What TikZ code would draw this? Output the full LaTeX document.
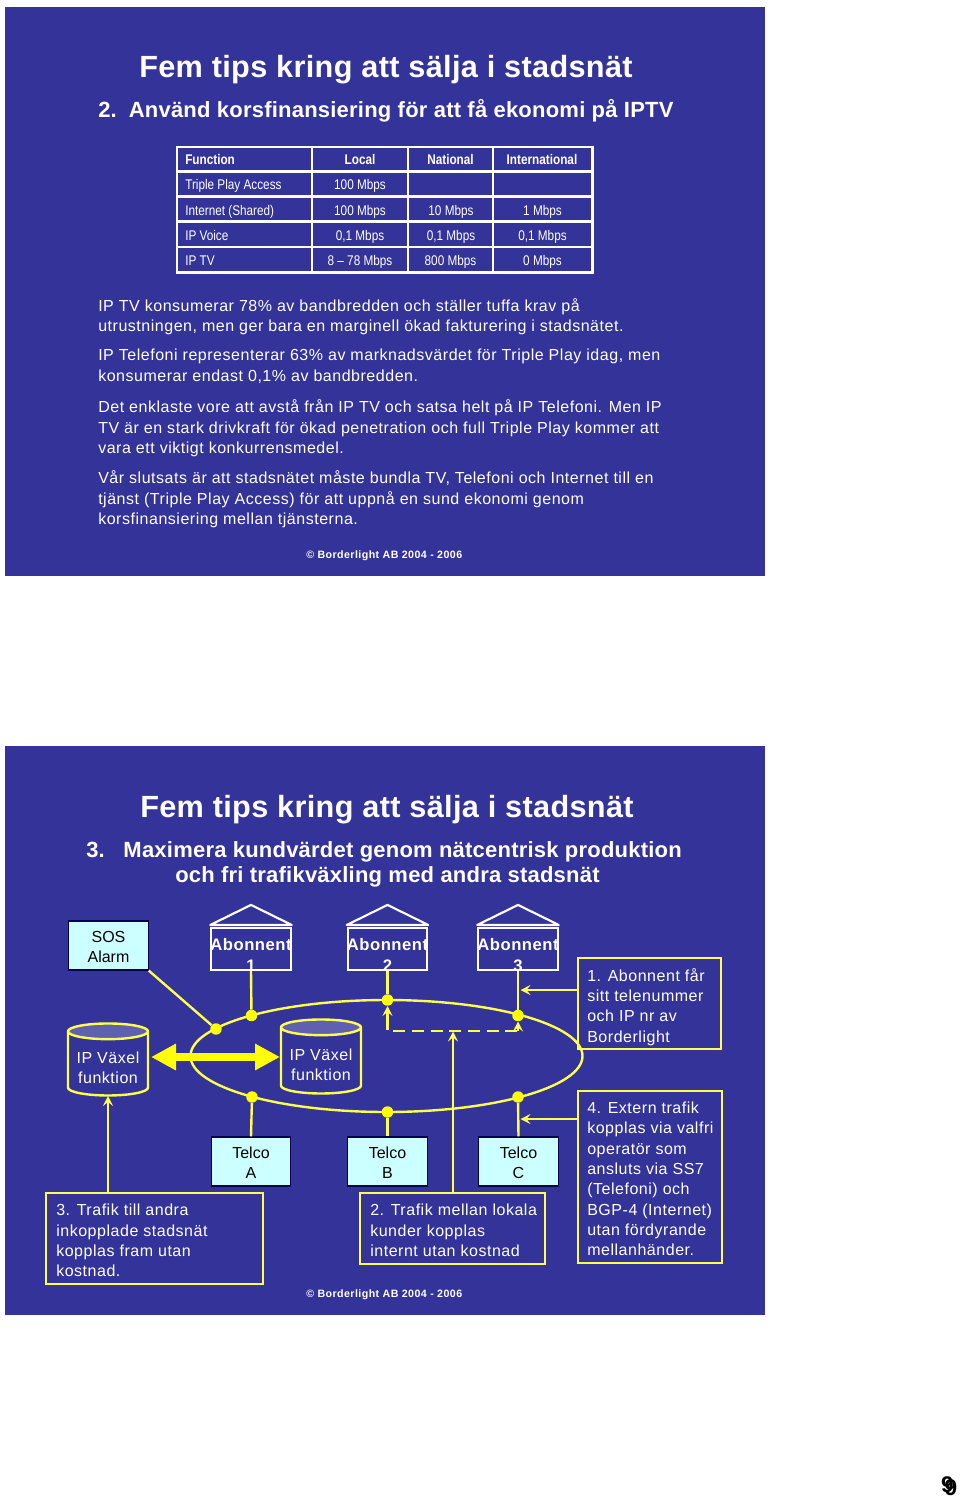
\documentclass[tikz,border=0pt]{standalone}
\usepackage{fontspec}
\setmainfont{Liberation Sans}
\newfontfamily\narrowf[FakeStretch=0.84]{Liberation Sans}
\newfontfamily\bodyf[LetterSpace=3.3]{Liberation Sans}
\newfontfamily\titlef[LetterSpace=1.1]{Liberation Sans}
\newfontfamily\headf[LetterSpace=1.0]{Liberation Sans}
\newfontfamily\abonf[LetterSpace=3]{Liberation Sans}
\newfontfamily\footf[LetterSpace=4]{Liberation Sans}
\usetikzlibrary{shapes.geometric,arrows.meta}
\definecolor{slidebg}{HTML}{333399}
\definecolor{ylw}{HTML}{FFFF4D}
\definecolor{ylwb}{HTML}{FFFF00}
\definecolor{cyanb}{HTML}{CCFFFF}
\definecolor{cyltop}{HTML}{6060B0}
\newcommand\tstrut{\rule{0pt}{10.8pt}}
\newcommand\cstrut{\rule{0pt}{14pt}}
\tikzset{
  x=0.75pt,y=-0.75pt,
  title/.style={anchor=base west,inner sep=0,text=white,font=\titlef\bfseries\fontsize{23pt}{27pt}\selectfont},
  head/.style={anchor=base west,inner sep=0,text=white,font=\headf\bfseries\fontsize{16.5pt}{19pt}\selectfont},
  para/.style={anchor=north west,inner sep=0,text=white,align=left,font=\bodyf\fontsize{12pt}{15.25pt}\selectfont},
  foot/.style={anchor=base west,inner sep=0,text=white,font=\footf\bfseries\fontsize{8pt}{10pt}\selectfont},
  cell/.style={anchor=base,inner sep=0,text=white,font=\narrowf\fontsize{10.5pt}{12pt}\selectfont},
  cellb/.style={cell,font=\narrowf\bfseries\fontsize{10.5pt}{12pt}\selectfont},
  cellh/.style={cellb,anchor=base west},
  celll/.style={cell,anchor=base west},
  grid/.style={draw=white,line width=1.6pt},
  cyanbox/.style={draw=black!70!blue,fill=cyanb,line width=0.8pt,minimum width=59.5pt,minimum height=36.75pt,inner sep=0,align=center,text=black,font=\fontsize{12pt}{15.2pt}\selectfont},
  house/.style={draw=white,line width=1.6pt,minimum width=59.5pt,minimum height=31.5pt,inner sep=0},
  roof/.style={draw=white,line width=1.6pt,line join=round},
  abtext/.style={inner sep=0,text=white,align=center,font=\abonf\bfseries\fontsize{12.5pt}{15.2pt}\selectfont},
  ybox/.style={draw=ylw,line width=1.8pt,inner sep=0},
  ytext/.style={para},
  wire/.style={draw=ylw,line width=1.8pt},
  arrowed/.style={wire,-{Stealth[length=7.5pt,width=7.5pt,inset=3pt]}},
  dot/.style={circle,fill=ylwb,inner sep=0,minimum size=8.6pt},
  cyl/.style={cylinder,shape border rotate=90,aspect=0.25,draw=ylw,line width=1.8pt,inner sep=0,
    minimum width=60pt,minimum height=54pt,cylinder uses custom fill,cylinder body fill=slidebg,cylinder end fill=cyltop,
    align=center,text=white,font=\bodyf\fontsize{12pt}{15.2pt}\selectfont},
  fatarrow/.style={draw=ylwb,line width=6pt,{Triangle[length=18.75pt,width=18.75pt]}-{Triangle[length=18.75pt,width=18.75pt]}},
  pagenum/.style={inner sep=0,text=black,font=\bfseries\fontsize{17pt}{20pt}\selectfont}
}
\begin{document}
\begin{tikzpicture}
\useasboundingbox (0,0) rectangle (960,1498);
\fill[white] (0,0) rectangle (960,1498);
\fill[slidebg] (5,7) rectangle (765,576);
\fill[slidebg] (5,746) rectangle (765,1315);

% ---- slide 1
\node[title] (t1) at (139,78) {Fem tips kring att sälja i stadsnät};
\node[head] (h1) at (98,118) {2.\hspace{9pt}Använd korsfinansiering för att få ekonomi på IPTV};

\draw[grid] (177,147) rectangle (592.5,272.5);
\foreach \yy in {171.5,196.5,221.5,247}{\draw[grid] (177,\yy) -- (592.5,\yy);}
\foreach \xx in {312,408,493}{\draw[grid] (\xx,147) -- (\xx,272.5);}

\node[cellh] (c11) at (185,164.7) {Function};
\node[cellb] (c12) at (360,164.7) {Local};
\node[cellb] (c13) at (450.5,164.7) {National};
\node[cellb] (c14) at (542,164.7) {International};
\node[celll] (c21) at (185,189.7) {Triple Play Access};
\node[cell] (c22) at (360,189.7) {100 Mbps};
\node[celll] (c31) at (185,215.5) {Internet (Shared)};
\node[cell] (c32) at (360,215.5) {100 Mbps};
\node[cell] (c33) at (451,215.5) {10 Mbps};
\node[cell] (c34) at (542.5,215.5) {1 Mbps};
\node[celll] (c41) at (185,240.7) {IP Voice};
\node[cell] (c42) at (360,240.7) {0,1 Mbps};
\node[cell] (c43) at (451,240.7) {0,1 Mbps};
\node[cell] (c44) at (542.5,240.7) {0,1 Mbps};
\node[celll] (c51) at (185,265.7) {IP TV};
\node[cell] (c52) at (360,265.7) {8 – 78 Mbps};
\node[cell] (c53) at (450.5,265.7) {800 Mbps};
\node[cell] (c54) at (542.5,265.7) {0 Mbps};

\node[para] (p1) at (98,298) {IP TV konsumerar 78\% av bandbredden och ställer tuffa krav på\\utrustningen, men ger bara en marginell ökad fakturering i stadsnätet.};
\node[para] (p2) at (98,349) {IP Telefoni representerar 63\% av marknadsvärdet för Triple Play idag, men\\konsumerar endast 0,1\% av bandbredden.};
\node[para] (p3) at (98,399.5) {Det enklaste vore att avstå från IP TV och satsa helt på IP Telefoni. Men IP\\TV är en stark drivkraft för ökad penetration och full Triple Play kommer att\\vara ett viktigt konkurrensmedel.};
\node[para] (p4) at (98,470.5) {Vår slutsats är att stadsnätet måste bundla TV, Telefoni och Internet till en\\tjänst (Triple Play Access) för att uppnå en sund ekonomi genom\\korsfinansiering mellan tjänsterna.};
\node[foot] (f1) at (306,558) {© Borderlight AB 2004 - 2006};

% ---- slide 2
\node[title] (t2) at (140,817) {Fem tips kring att sälja i stadsnät};
\node[head] (h2) at (86,857) {3.\hspace{14pt}Maximera kundvärdet genom nätcentrisk produktion};
\node[head] (h3) at (175,882) {och fri trafikväxling med andra stadsnät};

\node[ellipse,draw=ylw,line width=1.8pt,minimum width=294pt,minimum height=84pt,inner sep=0] (ring) at (386.5,1056) {};

\node[cyanbox] (sos) at (108.5,945.5) {\tstrut SOS\\Alarm};
\node[cyanbox] (ta) at (251,1161.5) {\tstrut Telco\\A};
\node[cyanbox] (tb) at (387.5,1161.5) {\tstrut Telco\\B};
\node[cyanbox] (tc) at (518.5,1161.5) {\tstrut Telco\\C};

\node[house] (a1) at (251,949) {};
\node[house] (a2) at (387.5,949) {};
\node[house] (a3) at (518,949) {};
\foreach \n in {a1,a2,a3}{
  \draw[roof] ([yshift=1.5pt]\n.north west) -- ([yshift=16.5pt]\n.north) -- ([yshift=1.5pt]\n.north east) -- cycle;
}
\node[abtext] (a1t) at (251,955) {Abonnent\\1};
\node[abtext] (a2t) at (387.5,955) {Abonnent\\2};
\node[abtext] (a3t) at (518,955) {Abonnent\\3};

\node[cyl] (cl) at (108,1064) {\cstrut IP Växel\\funktion};
\node[cyl,minimum height=55.5pt] (cr) at (321,1061) {\cstrut IP Växel\\funktion};

\node[dot] (ds) at (216,1029) {};
\node[dot] (d1) at (251.5,1015.5) {};
\node[dot] (d2) at (387.5,1000) {};
\node[dot] (d3) at (518,1015.5) {};
\node[dot] (e1) at (252,1097) {};
\node[dot] (e2) at (387.5,1112) {};
\node[dot] (e3) at (518,1097) {};

\draw[wire] (sos.south east) -- (ds);
\draw[wire] (a1.south) -- (d1);
\draw[wire] (a2.south) -- (d2);
\draw[wire] (a3.south) -- (d3);
\draw[wire] (e1) -- (ta.north);
\draw[wire] (e2) -- (tb.north);
\draw[wire] (e3) -- (tc.north);

\coordinate (fa) at (151,1057);
\coordinate (fb) at (280,1057);
\draw[fatarrow] (fa) -- (fb);

\node[ybox,minimum width=107.25pt,minimum height=68.25pt] (b1) at (649.5,1003.5) {};
\node[ytext] (b1t) at (587,968) {1. Abonnent får\\sitt telenummer\\och IP nr av\\Borderlight};
\node[ybox,minimum width=108pt,minimum height=129pt] (b4) at (650,1177) {};
\node[ytext] (b4t) at (587,1101.5) {4. Extern trafik\\kopplas via valfri\\operatör som\\ansluts via SS7\\(Telefoni) och\\BGP-4 (Internet)\\utan fördyrande\\mellanhänder.};
\node[ybox,minimum width=162.75pt,minimum height=68.25pt] (b3) at (154.5,1238.5) {};
\node[ytext] (b3t) at (56,1204) {3. Trafik till andra\\inkopplade stadsnät\\kopplas fram utan\\kostnad.};
\node[ybox,minimum width=138.75pt,minimum height=53.25pt] (b2) at (452.5,1228.5) {};
\node[ytext] (b2t) at (370,1204) {2. Trafik mellan lokala\\kunder kopplas\\internt utan kostnad};

\coordinate (b1a) at (520.5,990);
\coordinate (b4a) at (520.5,1119);
\coordinate (b3a) at (108,1096);
\coordinate (dc1) at (387.5,1031);
\coordinate (dc2) at (518,1031);
\coordinate (dq2) at (387.5,1018);
\coordinate (b2a) at (453,1031.5);
\draw[arrowed] (b1.west |- b1a) -- (b1a);
\draw[arrowed] (b4.west |- b4a) -- (b4a);
\draw[arrowed] (b3a |- b3.north) -- (b3a);
\draw[arrowed] (b2a |- b2.north) -- (b2a);
\draw[wire,dash pattern=on 9pt off 5pt] (dq2) -- (dc1) -- (dc2);
\draw[arrowed] (dq2) -- (d2.south);
\draw[arrowed] (dc2) -- (d3.south);

\node[foot] (f2) at (306,1297) {© Borderlight AB 2004 - 2006};

\node[pagenum] (n1) at (947.5,1484.5) {9};
\node[pagenum] (n2) at (951,1487.5) {9};
\end{tikzpicture}
\end{document}
